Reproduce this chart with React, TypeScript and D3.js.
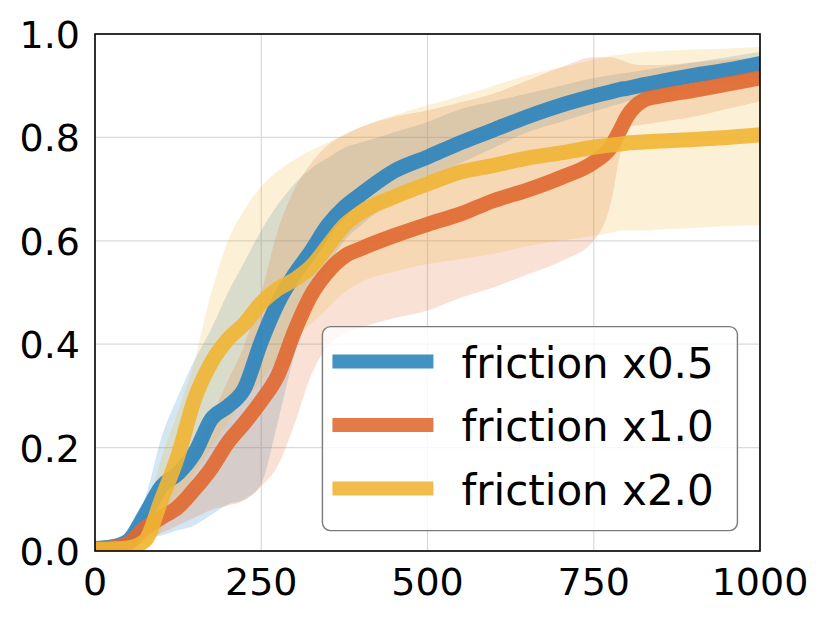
import { useEffect, useRef } from 'react'
import * as d3 from 'd3'

const steps = [0, 25, 50, 75, 100, 125, 150, 175, 200, 225, 250, 275, 300, 325, 350, 375, 400, 450, 500, 550, 600, 650, 700, 750, 775, 790, 800, 825, 850, 900, 950, 1000]

const blueMean = [0.005, 0.008, 0.02, 0.07, 0.125, 0.15, 0.19, 0.255, 0.28, 0.315, 0.405, 0.48, 0.535, 0.58, 0.63, 0.665, 0.69, 0.735, 0.762, 0.79, 0.815, 0.84, 0.862, 0.88, 0.888, 0.893, 0.895, 0.902, 0.908, 0.92, 0.93, 0.943]
const blueLo = [0, 0.002, 0.008, 0.025, 0.03, 0.04, 0.05, 0.07, 0.09, 0.1, 0.13, 0.25, 0.38, 0.48, 0.55, 0.6, 0.63, 0.68, 0.72, 0.75, 0.78, 0.81, 0.83, 0.85, 0.86, 0.865, 0.87, 0.875, 0.88, 0.893, 0.905, 0.915]
const blueHi = [0.01, 0.015, 0.035, 0.1, 0.22, 0.3, 0.37, 0.43, 0.5, 0.56, 0.62, 0.67, 0.71, 0.74, 0.76, 0.78, 0.79, 0.81, 0.83, 0.855, 0.87, 0.885, 0.9, 0.915, 0.92, 0.923, 0.925, 0.93, 0.935, 0.945, 0.955, 0.965]

const orangeMean = [0.005, 0.006, 0.015, 0.045, 0.065, 0.085, 0.12, 0.16, 0.21, 0.248, 0.29, 0.34, 0.425, 0.495, 0.54, 0.57, 0.585, 0.61, 0.632, 0.652, 0.678, 0.698, 0.722, 0.752, 0.78, 0.815, 0.84, 0.872, 0.88, 0.891, 0.903, 0.915]
const orangeLo = [0, 0.001, 0.004, 0.02, 0.035, 0.05, 0.065, 0.08, 0.088, 0.098, 0.125, 0.165, 0.245, 0.34, 0.395, 0.42, 0.432, 0.45, 0.465, 0.49, 0.51, 0.535, 0.56, 0.6, 0.67, 0.77, 0.82, 0.825, 0.83, 0.84, 0.855, 0.87]
const orangeHi = [0.01, 0.012, 0.028, 0.07, 0.1, 0.14, 0.2, 0.26, 0.33, 0.4, 0.5, 0.62, 0.7, 0.75, 0.785, 0.805, 0.82, 0.84, 0.852, 0.868, 0.885, 0.91, 0.935, 0.955, 0.955, 0.95, 0.945, 0.94, 0.94, 0.945, 0.95, 0.955]

const yellowMean = [0.003, 0.004, 0.006, 0.02, 0.1, 0.185, 0.295, 0.365, 0.41, 0.44, 0.48, 0.507, 0.525, 0.55, 0.59, 0.63, 0.655, 0.685, 0.71, 0.733, 0.746, 0.76, 0.77, 0.781, 0.785, 0.787, 0.789, 0.791, 0.793, 0.796, 0.8, 0.805]
const yellowLo = [0, 0, 0.001, 0.005, 0.04, 0.09, 0.15, 0.2, 0.25, 0.29, 0.33, 0.37, 0.41, 0.44, 0.47, 0.5, 0.52, 0.54, 0.555, 0.565, 0.575, 0.59, 0.6, 0.61, 0.615, 0.62, 0.62, 0.62, 0.622, 0.625, 0.628, 0.63]
const yellowHi = [0.008, 0.01, 0.015, 0.06, 0.18, 0.27, 0.37, 0.5, 0.6, 0.66, 0.705, 0.735, 0.757, 0.775, 0.79, 0.805, 0.82, 0.843, 0.862, 0.88, 0.9, 0.92, 0.935, 0.95, 0.958, 0.96, 0.962, 0.965, 0.967, 0.97, 0.972, 0.975]

const xTicks = [0, 250, 500, 750, 1000]
const yTicks = [0, 0.2, 0.4, 0.6, 0.8, 1.0]

const series = [
  { label: 'friction x0.5', color: '#2a83bc', mean: blueMean, lo: blueLo, hi: blueHi },
  { label: 'friction x1.0', color: '#e0682f', mean: orangeMean, lo: orangeLo, hi: orangeHi },
  { label: 'friction x2.0', color: '#efb534', mean: yellowMean, lo: yellowLo, hi: yellowHi },
]

const W = 830
const H = 623
const FONT = 'DejaVu Sans, sans-serif'

export default function App() {
  const svgRef = useRef<SVGSVGElement>(null)

  useEffect(() => {
    if (!svgRef.current) return
    const margin = { top: 34, right: 70, bottom: 72, left: 95 }
    const innerW = W - margin.left - margin.right
    const innerH = H - margin.top - margin.bottom

    const svg = d3.select(svgRef.current)
    svg.selectAll('*').remove()
    svg.attr('width', W).attr('height', H)

    const x = d3.scaleLinear().domain([0, 1000]).range([0, innerW])
    const y = d3.scaleLinear().domain([0, 1]).range([innerH, 0])

    svg.append('defs').append('clipPath').attr('id', 'plot-clip')
      .append('rect').attr('width', innerW).attr('height', innerH)

    const g = svg.append('g').attr('transform', `translate(${margin.left},${margin.top})`)

    // grid
    g.append('g').selectAll('line').data(xTicks).enter().append('line')
      .attr('x1', d => x(d)).attr('x2', d => x(d)).attr('y1', 0).attr('y2', innerH)
      .attr('stroke', '#dadada').attr('stroke-width', 1.2)
    g.append('g').selectAll('line').data(yTicks).enter().append('line')
      .attr('x1', 0).attr('x2', innerW).attr('y1', d => y(d)).attr('y2', d => y(d))
      .attr('stroke', '#dadada').attr('stroke-width', 1.2)

    const plot = g.append('g').attr('clip-path', 'url(#plot-clip)')

    // spread bands
    series.forEach(s => {
      const area = d3.area<number>()
        .x((_, i) => x(steps[i]))
        .y0((_, i) => y(s.lo[i]))
        .y1((_, i) => y(s.hi[i]))
        .curve(d3.curveMonotoneX)
      plot.append('path')
        .datum(s.mean)
        .attr('fill', s.color)
        .attr('fill-opacity', 0.2)
        .attr('d', area)
    })

    const line = d3.line<number>()
      .x((_, i) => x(steps[i]))
      .y(d => y(d))
      .curve(d3.curveMonotoneX)

    // mean curves
    series.forEach(s => {
      plot.append('path')
        .datum(s.mean)
        .attr('fill', 'none')
        .attr('stroke', s.color)
        .attr('stroke-width', 15)
        .attr('stroke-linejoin', 'round')
        .attr('stroke-linecap', 'round')
        .attr('opacity', 0.9)
        .attr('d', line)
    })

    // frame
    g.append('rect')
      .attr('width', innerW).attr('height', innerH)
      .attr('fill', 'none').attr('stroke', '#000').attr('stroke-width', 1.6)

    // tick labels
    g.append('g').selectAll('text').data(yTicks).enter().append('text')
      .attr('x', -15).attr('y', d => y(d) + 14)
      .attr('text-anchor', 'end')
      .attr('font-family', FONT).attr('font-size', 38).attr('fill', '#000')
      .text(d => d.toFixed(1))
    g.append('g').selectAll('text').data(xTicks).enter().append('text')
      .attr('x', d => x(d)).attr('y', innerH + 44)
      .attr('text-anchor', 'middle')
      .attr('font-family', FONT).attr('font-size', 38).attr('fill', '#000')
      .text(d => String(d))

    // legend
    const legend = g.append('g').attr('transform', `translate(${x(342)},${y(0.434)})`)
    legend.append('rect')
      .attr('width', 415).attr('height', 204).attr('rx', 8)
      .attr('fill', '#fff').attr('fill-opacity', 0.8)
      .attr('stroke', '#7a7a7a').attr('stroke-width', 1.4)
    series.forEach((s, i) => {
      const cy = 35 + i * 63.5
      legend.append('line')
        .attr('x1', 10).attr('x2', 111).attr('y1', cy).attr('y2', cy)
        .attr('stroke', s.color).attr('stroke-width', 14).attr('opacity', 0.88)
      legend.append('text')
        .attr('x', 139).attr('y', cy + 16)
        .attr('font-family', FONT).attr('font-size', 42).attr('fill', '#000')
        .text(s.label)
    })
  }, [])

  return (
    <div style={{ position: 'absolute', left: 0, top: 0, width: W, height: H, background: '#fff' }}>
      <svg ref={svgRef} style={{ display: 'block' }} />
    </div>
  )
}
